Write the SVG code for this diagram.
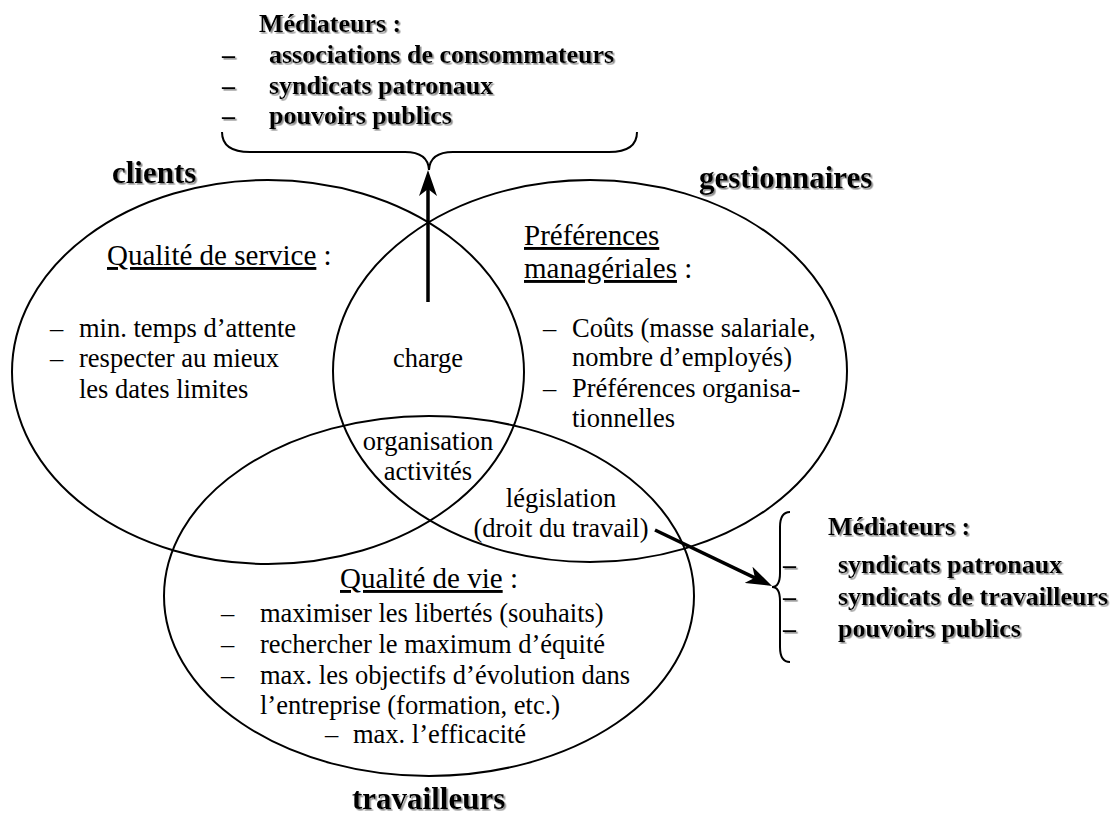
<svg xmlns="http://www.w3.org/2000/svg" width="1118" height="816" viewBox="0 0 1118 816">
<style>
  text { font-family: "Liberation Serif", "Times New Roman", serif; fill: #000; }
  .body { font-size: 26.5px; }
  .head { font-size: 29px; }
  .ul { text-decoration: underline; }
  .lbl { font-size: 31px; font-weight: bold; filter: url(#shadow); }
  .med { font-size: 26px; font-weight: bold; filter: url(#shadow); }
  .mid { text-anchor: middle; }
  .ell { fill: none; stroke: #000; stroke-width: 2; }
  .brace { fill: none; stroke: #000; stroke-width: 2; }
  .arrow { fill: none; stroke: #000; stroke-width: 3.5; marker-end: url(#stealth); }
</style>
<defs>
  <filter id="shadow" x="-10%" y="-20%" width="120%" height="150%">
    <feDropShadow dx="1.6" dy="1.6" stdDeviation="0.7" flood-color="#808080" flood-opacity="0.9"/>
  </filter>
  <marker id="stealth" viewBox="0 0 26 18" refX="7" refY="9" markerWidth="26" markerHeight="18" markerUnits="userSpaceOnUse" orient="auto">
    <path d="M0,0 L26,9 L0,18 L7,9 Z" fill="#000"/>
  </marker>
</defs>
<rect width="1118" height="816" fill="#fff"/>

<g id="clients">
  <ellipse class="ell" cx="268" cy="372" rx="256" ry="192"/>
  <text class="lbl" x="112" y="183">clients</text>
  <text class="head" x="107" y="265"><tspan class="ul">Qualité de service</tspan> :</text>
  <text class="body" x="50" y="337">–</text>
  <text class="body" x="79" y="337">min. temps d’attente</text>
  <text class="body" x="50" y="367">–</text>
  <text class="body" x="79" y="367">respecter au mieux</text>
  <text class="body" x="79" y="398">les dates limites</text>
</g>

<g id="gestionnaires">
  <ellipse class="ell" cx="590" cy="371" rx="257" ry="191"/>
  <text class="lbl" x="699" y="188">gestionnaires</text>
  <text class="head" x="524" y="245"><tspan class="ul">Préférences</tspan></text>
  <text class="head" x="524" y="278"><tspan class="ul">managériales</tspan> :</text>
  <text class="body" x="543" y="337">–</text>
  <text class="body" x="572" y="337">Coûts (masse salariale,</text>
  <text class="body" x="572" y="366">nombre d’employés)</text>
  <text class="body" x="543" y="397">–</text>
  <text class="body" x="572" y="397">Préférences organisa-</text>
  <text class="body" x="572" y="427">tionnelles</text>
</g>

<g id="travailleurs">
  <ellipse class="ell" cx="429" cy="596" rx="265" ry="180"/>
  <text class="lbl" x="352" y="809">travailleurs</text>
  <text class="head" x="340" y="588"><tspan class="ul">Qualité de vie</tspan> :</text>
  <text class="body" x="221" y="622">–</text>
  <text class="body" x="260" y="622">maximiser les libertés (souhaits)</text>
  <text class="body" x="221" y="653">–</text>
  <text class="body" x="260" y="653">rechercher le maximum d’équité</text>
  <text class="body" x="221" y="684">–</text>
  <text class="body" x="260" y="684">max. les objectifs d’évolution dans</text>
  <text class="body" x="260" y="714">l’entreprise (formation, etc.)</text>
  <text class="body" x="325" y="743">–</text>
  <text class="body" x="353" y="743">max. l’efficacité</text>
</g>

<g id="charge">
  <text class="body mid" x="428" y="367">charge</text>
</g>
<g id="organisation">
  <text class="body mid" x="428" y="450">organisation</text>
  <text class="body mid" x="428" y="480">activités</text>
</g>
<g id="legislation">
  <text class="body mid" x="561" y="507">législation</text>
  <text class="body mid" x="561" y="537">(droit du travail)</text>
</g>

<g id="mediateurs-haut">
  <text class="med" x="259" y="32">Médiateurs :</text>
  <text class="med" x="222" y="63">–</text>
  <text class="med" x="269" y="63">associations de consommateurs</text>
  <text class="med" x="222" y="94">–</text>
  <text class="med" x="269" y="94">syndicats patronaux</text>
  <text class="med" x="222" y="124">–</text>
  <text class="med" x="269" y="124">pouvoirs publics</text>
</g>

<g id="mediateurs-droite">
  <text class="med" x="828" y="535">Médiateurs :</text>
  <text class="med" x="783" y="573">–</text>
  <text class="med" x="838" y="573">syndicats patronaux</text>
  <text class="med" x="783" y="605">–</text>
  <text class="med" x="838" y="605">syndicats de travailleurs</text>
  <text class="med" x="783" y="637">–</text>
  <text class="med" x="838" y="637">pouvoirs publics</text>
</g>

<g id="connectors">
  <path class="brace" d="M222,132 Q222,152 250,152 L405,152 Q428,152 429,170 Q430,152 453,152 L609,152 Q637,152 637,132"/>
  <path class="brace" d="M790,512 Q780,512 780,527 L780,573 Q780,587 772,587 Q780,587 780,601 L780,647 Q780,662 790,662"/>
  <line class="arrow" x1="428" y1="302" x2="428" y2="189"/>
  <line class="arrow" x1="655" y1="530" x2="754.9" y2="577.8"/>
</g>
</svg>
